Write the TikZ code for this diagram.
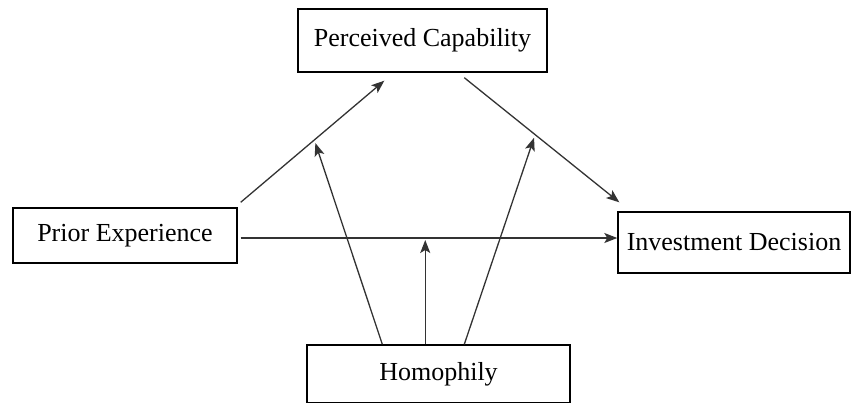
\documentclass[tikz,border=0pt]{standalone}
\usepackage{fontspec}
\setmainfont{Liberation Serif}
\usepackage{tikz}
\usetikzlibrary{positioning, arrows.meta, calc}

\begin{document}
\begin{tikzpicture}[x=1pt,y=-1pt,
        box/.style={draw,line width=1.4pt,rectangle,inner sep=0pt,font=\fontsize{26}{30}\selectfont},
        arr/.style={line width=1.3pt,draw=black!80,-{Stealth[length=13pt,width=10pt,inset=3pt]}}]
        \clip (0,0) rectangle (854,402);
        \useasboundingbox (0,0) rectangle (854,402);

        \node[box,minimum width=249pt,minimum height=63pt] (percap) at (422.5,40.5) {Perceived Capability};
        \node[box,minimum width=224pt,minimum height=55pt] (prior) at (125,235.5) {Prior Experience};
        \node[box,minimum width=232pt,minimum height=61pt] (invest) at (734,242.5) {Investment Decision};
        \node[box,minimum width=263pt,minimum height=58pt] (homoph) at (438.5,374) {Homophily};

        \coordinate (hstart) at ($(prior.east)+(3,2.5)$);

        \draw[arr] ($(prior.north east)+(3,-5)$) -- ($(percap.south west)+(87,8)$) coordinate[pos=0.52] (pathA);
        \draw[arr] ($(percap.south west)+(167,5)$) -- ($(invest.north west)+(2,-9)$) coordinate[pos=0.45] (pathB);
        \draw[arr] (hstart) -- (hstart -| invest.west) coordinate[pos=0.49] (pathC);

        \draw[arr] ($(homoph.north west)+(76,0)$) -- ($(pathA)+(0,4)$);
        \draw[arr] (homoph.north west -| pathC) -- ($(pathC)+(0,2)$);
        \draw[arr] ($(homoph.north west)+(158,0)$) -- ($(pathB)+(0,4)$);
\end{tikzpicture}
\end{document}
